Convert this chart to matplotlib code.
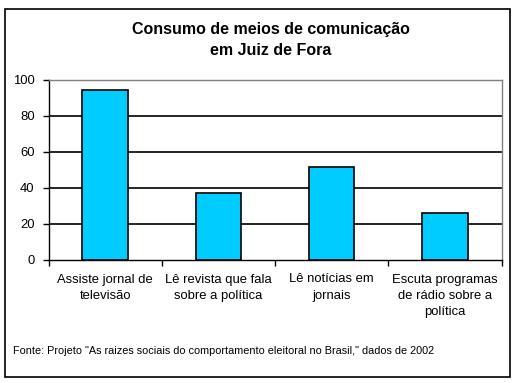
import numpy as np
import matplotlib.pyplot as plt
from matplotlib.patches import Rectangle

categories = ["Assiste jornal de\ntelevisão",
              "Lê revista que fala\nsobre a política",
              "Lê notícias em\njornais",
              "Escuta programas\nde rádio sobre a\npolítica"]
values = [94.5, 37.2, 51.8, 26.2]
yticks = [0, 20, 40, 60, 80, 100]

W, H = 516, 383
fig = plt.figure(figsize=(W / 100, H / 100), dpi=100)
plt.rcParams['font.family'] = ['Liberation Sans', 'DejaVu Sans']

# outer frame of the chart
fig.patches.append(Rectangle((5 / W, 1 - 377 / H), 505 / W, 368 / H,
                             transform=fig.transFigure, fill=False,
                             edgecolor='black', linewidth=1.2))

ax = fig.add_axes([48.5 / W, 1 - 260 / H, 453 / W, 180 / H])
x = np.arange(len(values))
ax.bar(x, values, width=0.4, color='#00ccff', edgecolor='black',
       linewidth=1.2, zorder=3)

ax.set_xlim(-0.5, len(values) - 0.5)
ax.set_ylim(0, 100)
ax.set_yticks(yticks)
ax.set_yticklabels([str(v) for v in yticks], fontsize=9.4)
for v in yticks[1:-1]:
    ax.axhline(v, color='black', linewidth=1.2, zorder=1)

ax.set_xticks(np.arange(len(values) + 1) - 0.5)
ax.set_xticklabels([])
ax.tick_params(axis='x', length=4, width=1, direction='out')
ax.tick_params(axis='y', length=4, width=1, direction='out', pad=6)
for i, lab in enumerate(categories):
    ax.text(i, -7.5, lab, ha='center', va='top', fontsize=9.4,
            linespacing=1.5, transform=ax.transData)

ax.spines['left'].set_color('black')
ax.spines['bottom'].set_color('black')
ax.spines['top'].set_color('#808080')
ax.spines['right'].set_color('#808080')
for s in ax.spines.values():
    s.set_linewidth(1.0)

fig.text(271 / W, 1 - 40 / H, "Consumo de meios de comunicação\nem Juiz de Fora",
         ha='center', va='center', fontsize=11.5, fontweight='bold',
         linespacing=1.55)
fig.text(13 / W, 1 - 351 / H,
         "Fonte: Projeto \"As raizes sociais do comportamento eleitoral no Brasil,\" dados de 2002",
         ha='left', va='center', fontsize=7.8)

fig.savefig("out.png", dpi=100)
